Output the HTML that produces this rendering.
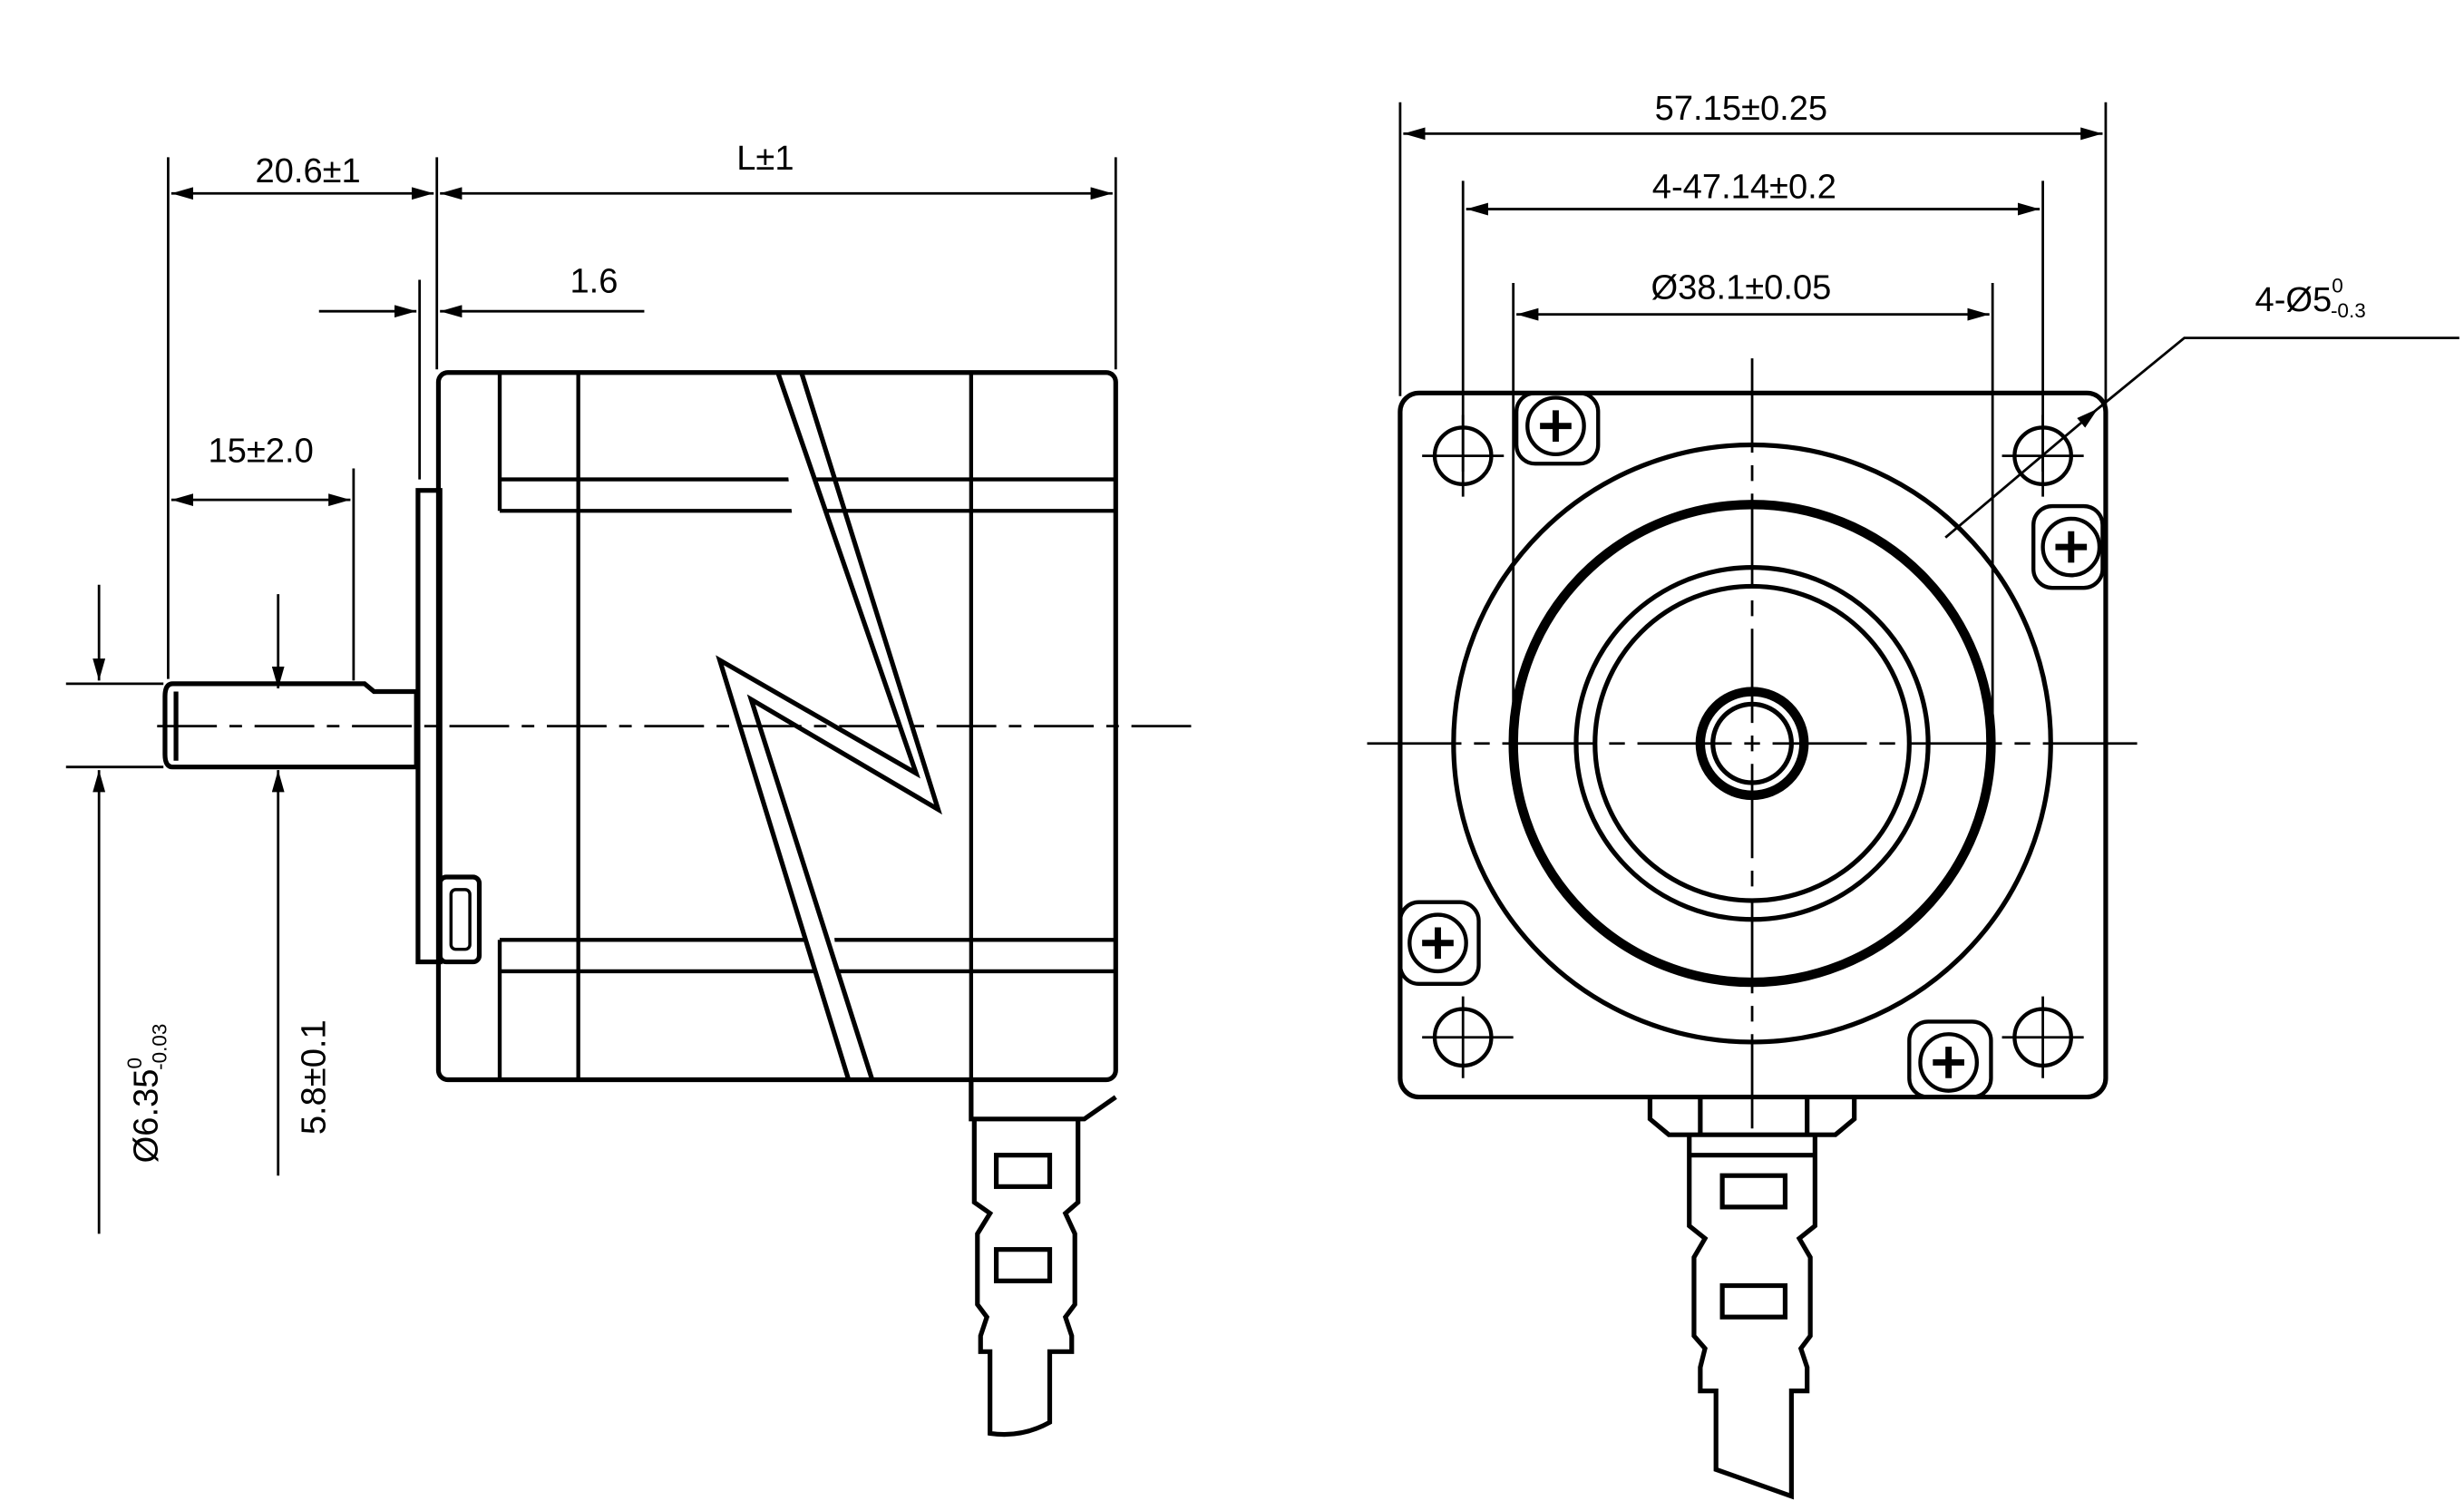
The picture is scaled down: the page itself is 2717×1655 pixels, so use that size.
<!DOCTYPE html>
<html><head><meta charset="utf-8"><style>html,body{margin:0;padding:0;background:#fff}svg{display:block}</style></head><body>
<svg width="2717" height="1655" viewBox="0 0 1568 955" xmlns="http://www.w3.org/2000/svg" font-family="Liberation Sans, DejaVu Sans, sans-serif" font-size="22" fill="none" stroke="#000" stroke-width="2">
<defs><marker id="a" markerWidth="14" markerHeight="8" refX="14" refY="4" orient="auto-start-reverse" markerUnits="userSpaceOnUse"><path d="M0,0 L14,4 L0,8 Z" fill="#000" stroke="none"/></marker></defs>
<!-- LEFT VIEW dims -->
<g stroke-width="1.6">
<line x1="107" y1="100" x2="107" y2="432"/><line x1="278" y1="100" x2="278" y2="235"/><line x1="710" y1="100" x2="710" y2="235"/>
<line x1="109" y1="123" x2="276" y2="123" marker-start="url(#a)" marker-end="url(#a)"/>
<line x1="280" y1="123" x2="708" y2="123" marker-start="url(#a)" marker-end="url(#a)"/>
<line x1="267" y1="178" x2="267" y2="305"/>
<line x1="203" y1="198" x2="265" y2="198" marker-end="url(#a)"/><line x1="410" y1="198" x2="280" y2="198" marker-end="url(#a)"/>
<line x1="225" y1="298" x2="225" y2="433"/>
<line x1="109" y1="318" x2="223" y2="318" marker-start="url(#a)" marker-end="url(#a)"/>
<line x1="42" y1="435" x2="104" y2="435"/><line x1="42" y1="488" x2="104" y2="488"/>
<line x1="63" y1="372" x2="63" y2="433" marker-end="url(#a)"/><line x1="63" y1="785" x2="63" y2="490" marker-end="url(#a)"/>
<line x1="177" y1="378" x2="177" y2="438" marker-end="url(#a)"/><line x1="177" y1="748" x2="177" y2="490" marker-end="url(#a)"/>
</g>
<g fill="#000" stroke="none">
<text x="196" y="116" text-anchor="middle">20.6±1</text>
<text x="487" y="108" text-anchor="middle">L±1</text>
<text x="378" y="186" text-anchor="middle">1.6</text>
<text x="166" y="294" text-anchor="middle">15±2.0</text>
<text transform="translate(100,740) rotate(-90)">Ø6.35<tspan font-size="13" dy="-10">0</tspan><tspan font-size="13" dx="-8" dy="16">-0.03</tspan></text>
<text transform="translate(207,722) rotate(-90)">5.8±0.1</text>
</g>
<!-- shaft -->
<path d="M110,435 L232,435 L238,440 L265,440 L265,488 L110,488 Q105,488 105,480 L105,443 Q105,435 110,435 Z" stroke-width="3"/>
<line x1="112" y1="440" x2="112" y2="484" stroke-width="3"/>
<!-- flange & body -->
<rect x="266" y="312" width="14" height="300" stroke-width="3"/>
<rect x="280" y="558" width="25" height="54" rx="4" stroke-width="3"/>
<rect x="287" y="566" width="12" height="38" rx="3" stroke-width="2"/>
<rect x="279" y="237" width="431" height="450" rx="6" stroke-width="3"/>
<g stroke-width="2.5">
<line x1="318" y1="237" x2="318" y2="325"/><line x1="318" y1="598" x2="318" y2="687"/>
<line x1="368" y1="237" x2="368" y2="687"/><line x1="618" y1="237" x2="618" y2="687"/>
<line x1="318" y1="305" x2="710" y2="305"/><line x1="318" y1="325" x2="710" y2="325"/>
<line x1="318" y1="598" x2="710" y2="598"/><line x1="318" y1="618" x2="710" y2="618"/>
</g>
<path d="M495,237 L583,492 L458,420 L540,687" stroke-width="3" fill="#fff"/>
<path d="M510,237 L597,515 L478,445 L555,687" stroke-width="3"/>
<line x1="100" y1="462" x2="765" y2="462" stroke-width="1.6" stroke-dasharray="38,8,8,8"/>
<!-- left connector -->
<g stroke-width="3">
<path d="M618,687 L618,712 L690,712 L710,698"/>
<path d="M620,712 L620,765 L630,772 L622,785 L622,830 L628,838 L624,850 L624,860 L630,860 L630,912 Q650,915 668,905 L668,860 L682,860 L682,850 L678,838 L684,830 L684,785 L678,772 L686,765 L686,712"/>
<rect x="634" y="735" width="34" height="20"/><rect x="634" y="795" width="34" height="20"/>
</g>
<!-- RIGHT VIEW -->
<g stroke-width="1.6">
<line x1="891" y1="65" x2="891" y2="252"/><line x1="1340" y1="65" x2="1340" y2="265"/>
<line x1="893" y1="85" x2="1338" y2="85" marker-start="url(#a)" marker-end="url(#a)"/>
<line x1="931" y1="115" x2="931" y2="300"/><line x1="1300" y1="115" x2="1300" y2="300"/>
<line x1="933" y1="133" x2="1298" y2="133" marker-start="url(#a)" marker-end="url(#a)"/>
<line x1="963" y1="180" x2="963" y2="470"/><line x1="1268" y1="180" x2="1268" y2="470"/>
<line x1="965" y1="200" x2="1266" y2="200" marker-start="url(#a)" marker-end="url(#a)"/>
<line x1="1238" y1="342" x2="1335" y2="260" marker-end="url(#a)"/><polyline points="1335,260 1390,215 1565,215"/>
</g>
<g fill="#000" stroke="none">
<text x="1108" y="76" text-anchor="middle">57.15±0.25</text>
<text x="1110" y="126" text-anchor="middle">4-47.14±0.2</text>
<text x="1108" y="190" text-anchor="middle">Ø38.1±0.05</text>
<text x="1435" y="198">4-Ø5<tspan font-size="13" dy="-12">0</tspan><tspan font-size="13" dx="-8" dy="16">-0.3</tspan></text>
</g>
<rect x="891" y="250" width="449" height="448" rx="12" stroke-width="3"/>
<circle cx="1115" cy="473" r="190" stroke-width="3"/>
<circle cx="1115" cy="473" r="152" stroke-width="6"/>
<circle cx="1115" cy="473" r="112" stroke-width="3"/>
<circle cx="1115" cy="473" r="100" stroke-width="3"/>
<circle cx="1115" cy="473" r="33" stroke-width="6"/>
<circle cx="1115" cy="473" r="25" stroke-width="3"/>
<g stroke-width="2.5">
<circle cx="931" cy="290" r="18"/><circle cx="1300" cy="290" r="18"/><circle cx="931" cy="660" r="18"/><circle cx="1300" cy="660" r="18"/>
</g>
<g stroke-width="1.6">
<path d="M905,290 H957 M931,264 V316 M1274,290 H1326 M1300,264 V316 M905,660 H963 M931,634 V686 M1274,660 H1326 M1300,634 V686"/>
<line x1="870" y1="473" x2="1362" y2="473" stroke-dasharray="60,8,10,8"/>
<line x1="1115" y1="228" x2="1115" y2="720" stroke-dasharray="60,8,10,8"/>
</g>
<g stroke-width="2.5">
<rect x="965" y="250" width="52" height="45" rx="12"/><circle cx="990" cy="271" r="18"/>
<rect x="1294" y="322" width="44" height="52" rx="12"/><circle cx="1318" cy="348" r="18"/>
<rect x="891" y="574" width="50" height="52" rx="12"/><circle cx="915" cy="600" r="18"/>
<rect x="1215" y="650" width="52" height="48" rx="12"/><circle cx="1240" cy="676" r="18"/>
</g>
<g stroke-width="4">
<path d="M980,271 H1000 M990,261 V281 M1308,348 H1328 M1318,338 V358 M905,600 H925 M915,590 V610 M1230,676 H1250 M1240,666 V686"/>
</g>
<!-- right connector -->
<g stroke-width="3">
<path d="M1050,698 L1050,712 L1062,722 L1168,722 L1180,712 L1180,698"/>
<line x1="1082" y1="698" x2="1082" y2="722"/><line x1="1150" y1="698" x2="1150" y2="722"/>
<path d="M1075,722 L1075,780 L1085,788 L1078,800 L1078,850 L1085,858 L1082,870 L1082,885 L1092,885 L1092,935 L1140,952 L1140,885 L1150,885 L1150,870 L1146,858 L1152,850 L1152,800 L1145,788 L1155,780 L1155,722"/>
<line x1="1075" y1="735" x2="1155" y2="735"/>
<rect x="1096" y="748" width="40" height="20"/><rect x="1096" y="818" width="40" height="20"/>
</g>
</svg>
</body></html>
